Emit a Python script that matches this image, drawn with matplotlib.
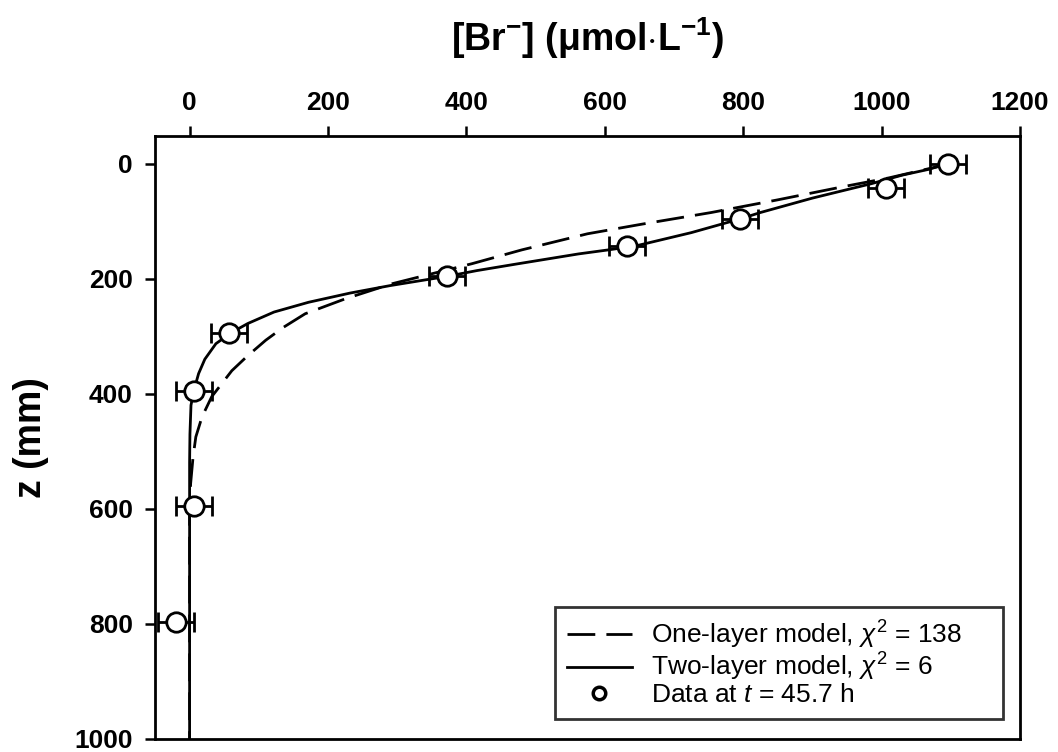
import matplotlib
matplotlib.use("Agg")
from matplotlib import pyplot as plt
from matplotlib.lines import Line2D

plt.rcParams['font.family'] = ['Liberation Sans', 'DejaVu Sans']
plt.rcParams['mathtext.fontset'] = 'custom'
plt.rcParams['mathtext.rm'] = 'Liberation Sans'
plt.rcParams['mathtext.it'] = 'Liberation Sans:italic'
plt.rcParams['mathtext.bf'] = 'Liberation Sans:bold'

# measured bromide data, t = 45.7 h
z_data = [0, 42, 96, 143, 196, 294, 396, 595, 796]
br_data = [1096, 1007, 796, 632, 372, 57, 7, 7, -19]
br_err = [26, 26, 26, 26, 26, 26, 26, 26, 26]

# one-layer model curve
z_one = [0, 25, 40, 63, 85, 105, 122, 150, 174, 209, 235, 261, 285, 307, 335, 360, 405, 440, 475, 510, 556, 600, 1000]
br_one = [1100, 1010, 945, 850, 754, 655, 575, 480, 408, 292, 225, 167, 135, 110, 83, 61, 32, 18, 9, 5, 1.5, 0, 0]

# two-layer model curve
z_two = [0, 10, 20, 35, 60, 85, 96, 120, 143, 150, 157, 175, 186, 196, 212, 225, 241, 258, 278, 294, 313, 340,
         365, 395, 420, 470, 520, 1000]
br_two = [1096, 1068, 1030, 985, 900, 825, 796, 725, 645, 605, 562, 470, 415, 372, 290, 232, 172, 122, 84, 60, 38, 22,
          13, 6, 2, 0.5, 0, 0]

fig = plt.figure(figsize=(10.58, 7.52), dpi=100)
ax = fig.add_axes([0.1465, 0.0173, 0.8176, 0.8019])

ax.plot(br_one, z_one, color="black", lw=2, ls=(0, (10, 4)), zorder=2)
ax.plot(br_two, z_two, color="black", lw=2, zorder=2)
ax.errorbar(br_data, z_data, xerr=br_err, fmt='o', ms=14, mfc='white', mec='black', mew=2,
            ecolor='black', elinewidth=2, capsize=7, capthick=2, zorder=3)

ax.set_xlim(-50, 1200)
ax.set_ylim(1000, -48)
ax.set_xticks([0, 200, 400, 600, 800, 1000, 1200])
ax.set_yticks([0, 200, 400, 600, 800, 1000])
ax.xaxis.tick_top()
ax.xaxis.set_label_position('top')
ax.tick_params(axis='both', direction='out', length=7, width=1.8, labelsize=19)
ax.tick_params(axis='x', pad=8)
ax.tick_params(axis='y', pad=9)
for lab in ax.get_xticklabels() + ax.get_yticklabels():
    lab.set_fontweight('bold')
for s in ax.spines.values():
    s.set_linewidth(2)

ax.set_xlabel(r"[Br$^{\mathbf{-}}$] ($\mathbf{\mu}$mol$\mathbf{\cdot}$L$^{\mathbf{-1}}$)",
              fontsize=27, fontweight='bold', labelpad=29)
ax.set_ylabel("z (mm)", fontsize=27, fontweight='bold')
ax.yaxis.set_label_coords(-0.122, 0.5)

handles = [
    Line2D([], [], color='black', lw=2, ls=(0, (10, 4))),
    Line2D([], [], color='black', lw=2),
    Line2D([], [], color='black', ls='none', marker='o', ms=9, mfc='white', mew=2.5),
]
labels = [r"One-layer model, $\chi^2$ = 138",
          r"Two-layer model, $\chi^2$ = 6",
          r"Data at $t$ = 45.7 h"]
leg = ax.legend(handles, labels, loc='lower left', bbox_to_anchor=(0.462, 0.033, 0.518, 0.2),
                mode='expand', borderaxespad=0, fontsize=19, frameon=True, fancybox=False,
                edgecolor='black', handlelength=2.5, handletextpad=0.7, labelspacing=0.0,
                borderpad=0.45)
leg.get_frame().set_linewidth(2)

fig.savefig("out.png", dpi=100)
